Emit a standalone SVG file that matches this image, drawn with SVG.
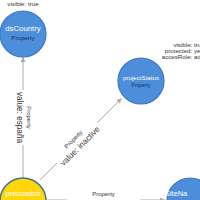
<svg xmlns="http://www.w3.org/2000/svg" width="200" height="200" viewBox="0 0 200 200">
<defs>
<marker id="arr" viewBox="0 0 10 10" refX="10" refY="5" markerWidth="5.5" markerHeight="5" markerUnits="userSpaceOnUse" orient="auto"><path d="M0,0 L10,5 L0,10 z" fill="#a9a9a9"/></marker>
</defs>
<style>
.blue{fill:#4c8eda;stroke:#3a78c4;stroke-width:1.2}
.yel{fill:#ffd60a;stroke:#3f7590;stroke-width:1.5}
.name{font-family:"Liberation Sans",Arial,sans-serif;fill:#ffffff;text-anchor:middle}
.typ{font-family:"Liberation Sans",Arial,sans-serif;fill:#18304f;text-anchor:middle}
.pk{font-family:"Liberation Sans",Arial,sans-serif;fill:#333333;font-size:6.2px;text-anchor:end}
.pv{font-family:"Liberation Sans",Arial,sans-serif;fill:#333333;font-size:6.2px;text-anchor:start}
.e{stroke:#ababab;stroke-width:1;fill:none}
.el{font-family:"Liberation Sans",Arial,sans-serif;fill:#333333;text-anchor:middle}
.bg{fill:#ffffff}
</style>
<rect width="200" height="200" fill="#ffffff"/>
<g id="connectors">
  <line class="e" x1="23" y1="178" x2="23" y2="57" marker-end="url(#arr)"/>
  <line class="e" x1="40" y1="180" x2="121.7" y2="98.3" marker-end="url(#arr)"/>
  <line class="e" x1="46" y1="200" x2="165" y2="200" marker-end="url(#arr)"/>
  <g transform="translate(23,117.5) rotate(90)">
    <rect class="bg" x="-27.5" y="-1.5" width="55" height="3"/>
    <text class="el" y="-4" font-size="6">Property</text>
    <text class="el" y="6" font-size="8.2">value: españa</text>
  </g>
  <g transform="translate(77,143) rotate(-45)">
    <rect class="bg" x="-28" y="-1.5" width="56" height="3"/>
    <text class="el" y="-3" font-size="6">Property</text>
    <text class="el" y="7" font-size="8.2">value: inactive</text>
  </g>
  <g transform="translate(103.5,200)">
    <rect class="bg" x="-36.5" y="-1.5" width="73" height="3"/>
    <text class="el" y="-4.5" font-size="6">Property</text>
  </g>
</g>
<g id="dsCountry">
  <circle class="blue" cx="23" cy="34" r="23"/>
  <text class="name" x="23" y="30.5" font-size="7.8">dsCountry</text>
  <text class="typ" x="23" y="39.5" font-size="6.2">Property</text>
  <text class="el" x="23" y="6.3" font-size="6.2">visible: true</text>
</g>
<g id="projectStatus">
  <circle class="blue" cx="141" cy="81" r="23"/>
  <text class="name" x="141" y="80" font-size="6.2">projectStatus</text>
  <text class="typ" x="141" y="86.5" font-size="5">Property</text>
  <text class="pk" x="192.3" y="46.5">visible:</text><text class="pv" x="194" y="46.5">tru</text>
  <text class="pk" x="192.3" y="52.8">protected:</text><text class="pv" x="194" y="52.8">ye</text>
  <text class="pk" x="192.3" y="59.1">accesRole:</text><text class="pv" x="194" y="59.1">ad</text>
</g>
<g id="precuados">
  <circle class="yel" cx="23" cy="201" r="23"/>
  <text class="name" x="23" y="195.5" font-size="7.5">precuados</text>
</g>
<g id="dsSiteNa">
  <circle class="blue" cx="190" cy="201" r="23"/>
  <text class="name" x="172" y="196.3" font-size="7.5" text-anchor="start">dsSiteNa</text>
</g>
</svg>
